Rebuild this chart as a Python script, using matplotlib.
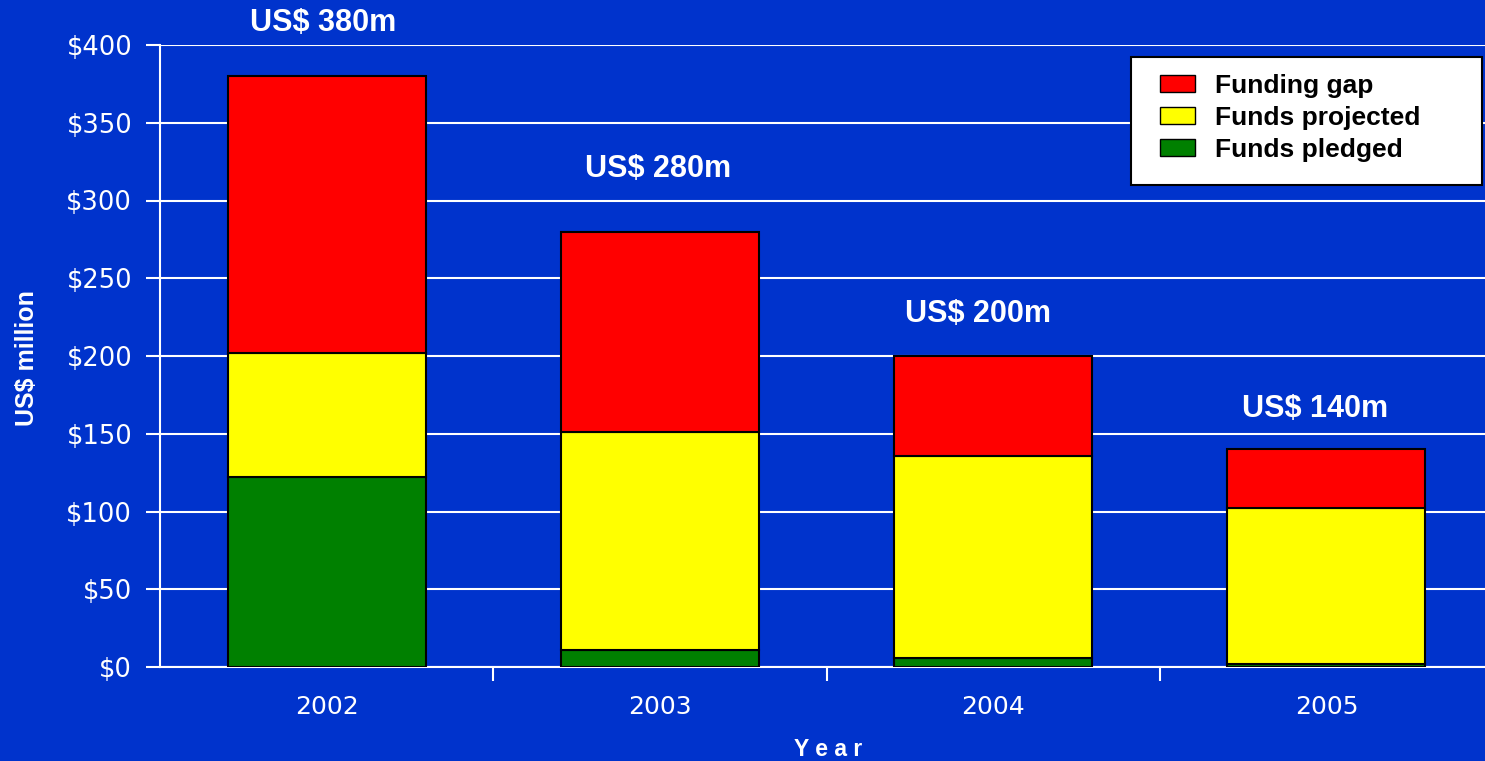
import matplotlib
matplotlib.use("Agg")
import matplotlib.pyplot as plt
from matplotlib.patches import Patch, Rectangle

years = ["2002", "2003", "2004", "2005"]
pledged = [122, 11, 6, 2]
projected = [80, 140, 130, 100]
gap = [178, 129, 64, 38]
totals_text = ["US$ 380m", "US$ 280m", "US$ 200m", "US$ 140m"]
yticks = [0, 50, 100, 150, 200, 250, 300, 350, 400]
ytick_labels = ["$0", "$50", "$100", "$150", "$200", "$250", "$300", "$350", "$400"]

BG = "#0033CC"
plt.rcParams['font.family'] = ['Liberation Sans', 'DejaVu Sans']

fig = plt.figure(figsize=(14.85, 7.61), dpi=100, facecolor=BG)
ax = fig.add_axes([160/1485, 1-667/761, 1333/1485, (667-45)/761])
ax.set_facecolor(BG)

x = list(range(len(years)))
w = 0.594
ec = "black"
lw = 1.5
ax.bar(x, pledged, w, color="#008000", edgecolor=ec, linewidth=lw, zorder=3)
ax.bar(x, projected, w, bottom=pledged, color="#FFFF00", edgecolor=ec, linewidth=lw, zorder=3)
bottom2 = [a + b for a, b in zip(pledged, projected)]
ax.bar(x, gap, w, bottom=bottom2, color="#FF0000", edgecolor=ec, linewidth=lw, zorder=3)

label_y = [414, 320, 227, 166]
label_dx = [-0.01, -0.005, -0.045, -0.035]
for i, t in enumerate(totals_text):
    ax.text(i + label_dx[i], label_y[i], t, ha="center", va="center", color="white",
            fontsize=22, fontweight="bold", clip_on=False)

ax.set_xlim(-0.5, 3.5)
ax.set_ylim(0, 400)
ax.set_yticks(yticks)
ax.set_yticklabels(ytick_labels, family=["DejaVu Sans"])
ax.yaxis.grid(True, color="white", linewidth=1.5, zorder=0)
ax.set_axisbelow(True)

ax.set_xticks(x)
ax.set_xticklabels(years, family=["DejaVu Sans"])
ax.set_xticks([0.5, 1.5, 2.5], minor=True)
ax.tick_params(axis="x", which="major", length=0, pad=20, colors="white", labelsize=18)
ax.tick_params(axis="x", which="minor", length=10, width=1.5, color="white", direction="out")
ax.tick_params(axis="y", length=10, width=1.5, color="white", labelcolor="white", labelsize=18.5, direction="out", pad=10)

for s in ["top", "right"]:
    ax.spines[s].set_visible(False)
for s in ["left", "bottom"]:
    ax.spines[s].set_color("white")
    ax.spines[s].set_linewidth(1.5)

fig.text(828/1485, 1-749/761, "Y e a r", ha="center", va="center", color="white",
         fontsize=16.5, fontweight="bold")
fig.text(27/1485, 1-358/761, "US$ million", ha="center", va="center", color="white",
         fontsize=18, fontweight="bold", rotation=90)

frame = Rectangle((1131/1485, 1-185/761), 351/1485, 128/761, transform=fig.transFigure,
                  facecolor="white", edgecolor="black", linewidth=1.5, zorder=5)
fig.patches.append(frame)

handles = [Patch(facecolor="#FF0000", edgecolor="black", label="Funding gap"),
           Patch(facecolor="#FFFF00", edgecolor="black", label="Funds projected"),
           Patch(facecolor="#008000", edgecolor="black", label="Funds pledged")]
leg = fig.legend(handles=handles, loc="center left",
                 bbox_to_anchor=(1160/1485, 1-118/761),
                 frameon=False, prop={"weight": "bold", "size": 19}, borderpad=0,
                 handlelength=1.33, handleheight=0.6, labelspacing=0.30, handletextpad=0.76,
                 borderaxespad=0)
leg.set_zorder(6)
for t in leg.get_texts():
    t.set_color("black")

fig.savefig("out.png", dpi=100, facecolor=BG)
